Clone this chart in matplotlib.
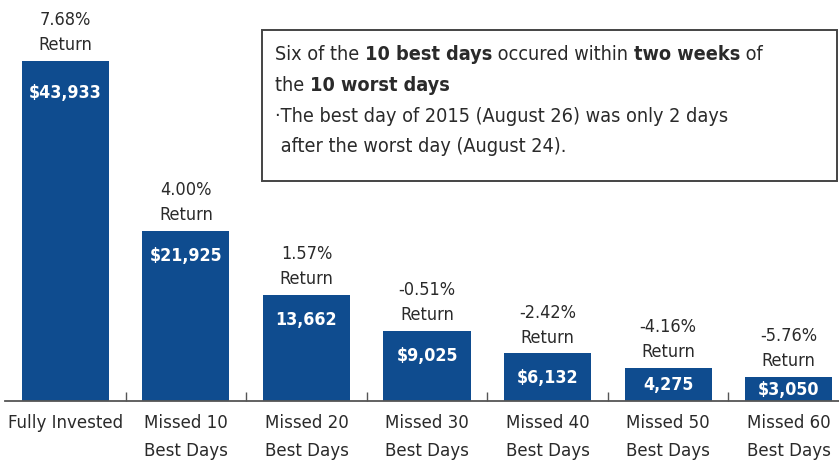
import os
import matplotlib
matplotlib.use("Agg")
import matplotlib.pyplot as plt
import matplotlib.font_manager as fm
from matplotlib.patches import Rectangle

# ── Daten ──────────────────────────────────────────────────────────────────────
categories = ["Fully Invested", "Missed 10\nBest Days", "Missed 20\nBest Days",
              "Missed 30\nBest Days", "Missed 40\nBest Days", "Missed 50\nBest Days",
              "Missed 60\nBest Days"]
values = [43933, 21925, 13662, 9025, 6132, 4275, 3050]
value_labels = ["$43,933", "$21,925", "13,662", "$9,025", "$6,132", "4,275", "$3,050"]
returns = ["7.68%", "4.00%", "1.57%", "-0.51%", "-2.42%", "-4.16%", "-5.76%"]

box_lines = [
    [("Six of the ", False), ("10 best days", True), (" occured within ", False),
     ("two weeks", True), (" of", False)],
    [("the ", False), ("10 worst days", True)],
    [("·The best day of 2015 (August 26) was only 2 days", False)],
    [(" after the worst day (August 24).", False)],
]

BLUE = "#0f4c8f"
TXT = "#2a2a2a"

# schmale Schrift suchen (falls vorhanden)
files = {os.path.basename(f.fname): f.fname for f in fm.fontManager.ttflist}
cands = [("LiberationSansNarrow-Regular.ttf", "LiberationSansNarrow-Bold.ttf"),
         ("DejaVuSansCondensed.ttf", "DejaVuSansCondensed-Bold.ttf"),
         ("RobotoCondensed-Regular.ttf", "RobotoCondensed-Bold.ttf")]
REG = BOLD = None
for r, b in cands:
    if r in files and b in files:
        REG = fm.FontProperties(fname=files[r])
        BOLD = fm.FontProperties(fname=files[b])
        break
if REG is None:
    REG = fm.FontProperties(family="Liberation Sans")
    BOLD = fm.FontProperties(family="Liberation Sans", weight="bold")
    SCALE = 0.9
else:
    SCALE = 1.0

def fp(base, size):
    p = base.copy()
    p.set_size(size * SCALE)
    return p

W, H = 839, 465
fig = plt.figure(figsize=(W / 100, H / 100), dpi=100)

def fx(px):
    return px / W

def fy(py):
    return 1 - py / H

# Achse: Grundlinie bei y=400.7px, von x=5px bis zum rechten Rand
base_px = 400.7
ax = fig.add_axes([fx(5), 1 - base_px / H, fx(834), base_px / H])
x = range(len(values))
ax.bar(x, values, width=0.722, color=BLUE, zorder=2)

ax.set_xlim(-0.502, 6.419)
ax.set_ylim(0, 43933 * base_px / 340)
for s in ["top", "right", "left"]:
    ax.spines[s].set_visible(False)
ax.spines["bottom"].set_color("#555555")
ax.spines["bottom"].set_linewidth(1.3)
ax.set_yticks([])
ax.set_xticks([i + 0.5 for i in range(len(values) - 1)])
ax.set_xticklabels([])
ax.tick_params(axis="x", direction="in", length=6.5, width=1.0, color="#555555")

# ── Beschriftungen ─────────────────────────────────────────────────────────────
for i, (v, vl, r, cat) in enumerate(zip(values, value_labels, returns, categories)):
    ax.annotate(f"{r}\nReturn", xy=(i, v), xytext=(0, 4.8), textcoords="offset points",
                ha="center", va="bottom", fontproperties=fp(REG, 13),
                color=TXT, linespacing=1.5)
    off = -25 if i else -32
    bar_px = v * 340 / 43933
    off = max(off, -bar_px / 2 - 1)
    ax.annotate(vl, xy=(i, v), xytext=(0, off * 0.72), textcoords="offset points",
                ha="center", va="center", fontproperties=fp(BOLD, 12.8), color="white")
    ax.annotate(cat, xy=(i, 0), xytext=(0, -9.5), textcoords="offset points",
                ha="center", va="top", fontproperties=fp(REG, 13.3), color=TXT,
                linespacing=1.75, annotation_clip=False)

# ── Infobox ────────────────────────────────────────────────────────────────────
fig.patches.append(Rectangle((fx(262), fy(181)), fx(836.5 - 262), (181 - 30) / H,
                             transform=fig.transFigure, fill=True, fc="white",
                             ec="#444444", lw=1.4, zorder=5))

fig.canvas.draw()
renderer = fig.canvas.get_renderer()
line_y = [55, 85, 117, 146]
for line, yy in zip(box_lines, line_y):
    cur = 275
    for txt, bold in line:
        t = fig.text(fx(cur), fy(yy), txt, ha="left", va="center",
                     fontproperties=fp(BOLD if bold else REG, 14.2), color=TXT, zorder=6)
        bb = t.get_window_extent(renderer=renderer)
        cur += bb.width

fig.savefig("out.png", dpi=100)
